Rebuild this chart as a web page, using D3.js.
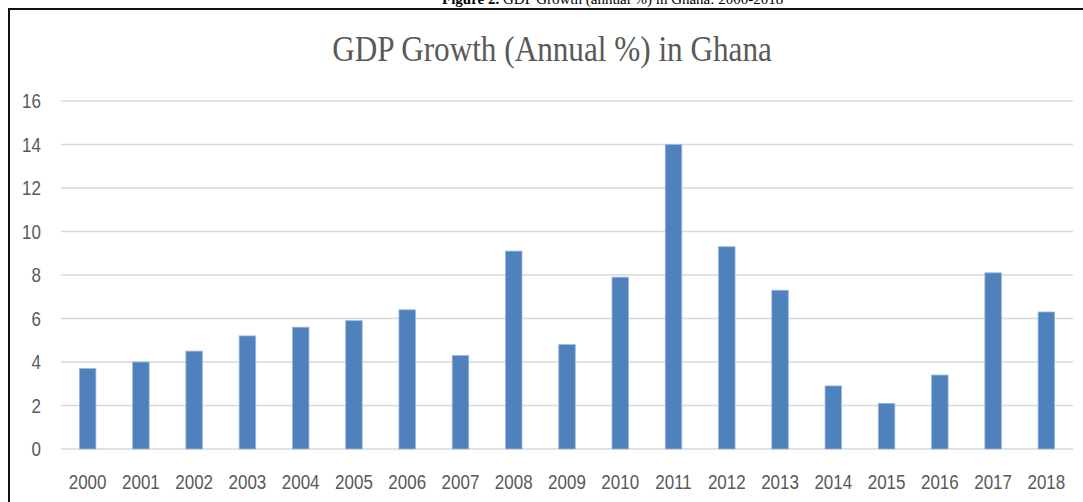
<!DOCTYPE html>
<html>
<head>
<meta charset="utf-8">
<script src="https://cdn.jsdelivr.net/npm/d3@7"></script>
<style>
  html, body { margin: 0; padding: 0; background: #fff; overflow: hidden; }
</style>
</head>
<body>
<svg id="chart" width="1083" height="502"></svg>
<script>
// data
var years = ["2000","2001","2002","2003","2004","2005","2006","2007","2008","2009",
             "2010","2011","2012","2013","2014","2015","2016","2017","2018"];
var growth = [3.7, 4.0, 4.5, 5.2, 5.6, 5.9, 6.4, 4.3, 9.1, 4.8,
              7.9, 14.0, 9.3, 7.3, 2.9, 2.1, 3.4, 8.1, 6.3];
var yTicks = [0, 2, 4, 6, 8, 10, 12, 14, 16];

var caption = "GDP Growth (annual %) in Ghana: 2000-2018";
var title = "GDP Growth (Annual %) in Ghana";

var svg = d3.select("#chart");

// figure caption, cut off at the top like the source scan
var cap = svg.append("text")
  .attr("x", 442).attr("y", 4)
  .attr("font-family", "Liberation Serif")
  .attr("font-size", 15).attr("fill", "#000");
cap.append("tspan").attr("font-weight", "bold").text("Figure 2. ");
cap.append("tspan").text(caption);

// frame
svg.append("rect")
  .attr("x", 9).attr("y", 9).attr("width", 1200).attr("height", 600)
  .attr("fill", "none").attr("stroke", "#111").attr("stroke-width", 2);

svg.append("text")
  .attr("transform", "translate(552,61) scale(0.975,1.1)")
  .attr("text-anchor", "middle")
  .attr("font-family", "Liberation Serif")
  .attr("font-size", 32).attr("fill", "#595959")
  .text(title);

var plotLeft = 61, plotRight = 1073, plotTop = 101, plotBottom = 449;

var x = d3.scaleBand().domain(years).range([plotLeft, plotRight]).paddingInner(0.69).paddingOuter(0.345);
var y = d3.scaleLinear().domain([0, 16]).range([plotBottom, plotTop]);

// gridlines
svg.append("g").selectAll("line").data(yTicks).enter().append("line")
  .attr("x1", plotLeft).attr("x2", plotRight)
  .attr("y1", function(d){ return y(d); }).attr("y2", function(d){ return y(d); })
  .attr("stroke", "#d9d9d9").attr("stroke-width", 1.5);

// y labels (stretched a bit vertically like the source)
svg.append("g").selectAll("text").data(yTicks).enter().append("text")
  .attr("transform", function(d){ return "translate(41," + (y(d) + 7) + ") scale(1,1.15)"; })
  .attr("text-anchor", "end")
  .attr("font-family", "Liberation Sans")
  .attr("font-size", 17).attr("fill", "#595959")
  .text(function(d){ return d; });

// bars
svg.append("g").selectAll("rect").data(growth).enter().append("rect")
  .attr("x", function(d, i){ return x(years[i]); })
  .attr("width", x.bandwidth())
  .attr("y", function(d){ return y(d); })
  .attr("height", function(d){ return y(0) - y(d); })
  .attr("fill", "#4f81bd")
  .attr("stroke", "#9db8dc").attr("stroke-width", 0.8);

// x labels
svg.append("g").selectAll("text").data(years).enter().append("text")
  .attr("transform", function(d){ return "translate(" + (x(d) + x.bandwidth() / 2) + ",489) scale(1,1.15)"; })
  .attr("text-anchor", "middle")
  .attr("font-family", "Liberation Sans")
  .attr("font-size", 17).attr("fill", "#595959")
  .text(function(d){ return d; });
</script>
</body>
</html>
